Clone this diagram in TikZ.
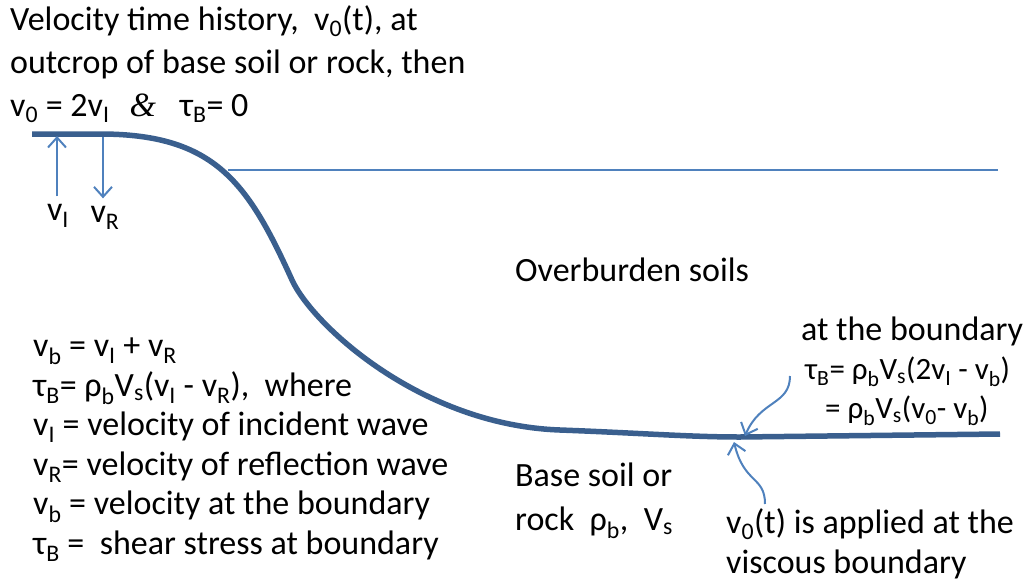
\documentclass[tikz,border=0pt]{standalone}
\usepackage{fontspec}
\setmainfont{Carlito}
\newfontfamily\ampfont{Liberation Serif}
\usetikzlibrary{arrows.meta,positioning}
\definecolor{bdBlue}{HTML}{3A5F8E}
\definecolor{lnBlue}{HTML}{4F81BD}
\newcommand{\lo}[1]{\textsubscript{#1}}
\tikzset{
  txt/.style={inner sep=0pt, align=left, font=\fontsize{34}{40}\selectfont, anchor=north west},
  lbl/.style={inner sep=0pt, font=\fontsize{34}{40}\selectfont},
  boundary/.style={draw=bdBlue, line width=5.5pt},
  surface/.style={draw=lnBlue, line width=2pt},
  wave/.style={-{Straight Barb[length=10pt,width=18pt]}, draw=lnBlue, line width=2pt}
}

\begin{document}
\begin{tikzpicture}[x=1pt,y=-1pt]
  \useasboundingbox (0,0) rectangle (1024,581);

  % ground surface and viscous boundary
  \draw[surface] (228,170) -- (998,170);
  \draw[boundary] (32,134) -- (100,134)
    .. controls (215,134) and (248,183) .. (292,280)
    .. controls (312,324) and (420,425) .. (560,430)
    .. controls (640,433) and (690,437) .. (740,437) -- (1000,434);

  % text
  \node[txt, font=\fontsize{34}{43}\selectfont] (outcrop) at (10,5) {Velocity time history,\ \ v\lo{0}(t), at\\
    outcrop of base soil or rock, then\\
    v\lo{0} = 2v\lo{I}\hspace{20pt}{\ampfont\itshape\&}\hspace{24pt}τ\lo{B}= 0};
  \node[txt] (over) at (515,258) {Overburden soils};
  \node[txt, font=\fontsize{34}{39.5}\selectfont] (defs) at (33,338) {v\lo{b} = v\lo{I} + v\lo{R}\\
    τ\lo{B}= ρ\lo{b}V\lo{s}(v\lo{I} - v\lo{R}),\ \ where\\
    v\lo{I} = velocity of incident wave\\
    v\lo{R}= velocity of reflection wave\\
    v\lo{b} = velocity at the boundary\\
    τ\lo{B} =\ \ shear stress at boundary};
  \node[txt, font=\fontsize{34}{39}\selectfont] (atbnd) at (801,317) {at the boundary\\
    {\fontsize{31}{39}\selectfont\hspace{4pt}τ\lo{B}= ρ\lo{b}V\lo{s}(2v\lo{I} - v\lo{b})}\\
    {\fontsize{31}{37}\selectfont\hspace{24pt}= ρ\lo{b}V\lo{s}(v\lo{0}- v\lo{b})}};
  \node[txt, font=\fontsize{34}{44}\selectfont] (base) at (515,463) {Base soil or\\
    rock\ \ ρ\lo{b},\ \ V\lo{s}};
  \node[txt, font=\fontsize{34}{40}\selectfont] (applied) at (726,508) {v\lo{0}(t) is applied at the\\
    viscous boundary};

  % incident and reflected waves
  \node[lbl] (vI) at (58,216) {v\lo{I}};
  \node[lbl] (vR) at (105,218) {v\lo{R}};
  \coordinate (vItop) at (57,136);
  \coordinate (vRtop) at (103,137);
  \draw[wave, shorten <=8pt] (vI.north -| vItop) -- (vItop);
  \draw[wave, shorten >=8pt] (vRtop) -- (vR.north -| vRtop);

  % pointers to the boundary
  \coordinate (tauTail) at (790,376);
  \coordinate (tauTip) at (745,436);
  \coordinate (vzTail) at (765,504);
  \coordinate (vzTip) at (734,442);
  \draw[wave] (tauTail) .. controls (790,405) and (760,400) .. (tauTip);
  \draw[wave] (vzTail) .. controls (765,476) and (744,484) .. (vzTip);
\end{tikzpicture}
\end{document}
